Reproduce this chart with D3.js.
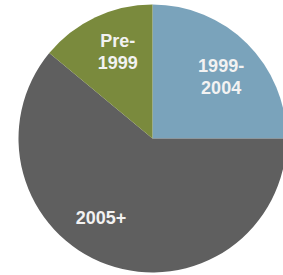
<!DOCTYPE html>
<html><head><meta charset="utf-8">
<script src="https://cdn.jsdelivr.net/npm/d3@7"></script>
<style>html,body{margin:0;padding:0;background:#fff;overflow:hidden}</style>
</head><body>
<svg id="chart" width="283" height="275"></svg>
<script>
const categories = ["1999-2004", "2005+", "Pre-1999"];
const values = [25, 61, 14];
const labelLines = [["1999-", "2004"], ["2005+"], ["Pre-", "1999"]];
const colors = ["#7aa3bb", "#5f5f5f", "#7a8a3d"];
const labelOffsets = [[5, 2], [-21, -6], [3.5, -6]];

const svg = d3.select("#chart");
const cx = 152.5, cy = 138.5, r = 134;
const g = svg.append("g").attr("transform", `translate(${cx},${cy})`);

const pie = d3.pie().sort(null).value(d => d);
const arcs = pie(values);
const arc = d3.arc().innerRadius(0).outerRadius(r);
const labelArc = d3.arc().innerRadius(90).outerRadius(90);

g.selectAll("path").data(arcs).enter().append("path")
  .attr("d", arc)
  .attr("fill", (d, i) => colors[i]);

const lh = 22;
arcs.forEach((d, i) => {
  const c = labelArc.centroid(d);
  const x = c[0] + labelOffsets[i][0];
  const y = c[1] + labelOffsets[i][1];
  const lines = labelLines[i];
  const t = g.append("text")
    .attr("text-anchor", "middle")
    .attr("font-family", "Liberation Sans, Arial, sans-serif")
    .attr("font-weight", "bold")
    .attr("font-size", 18)
    .attr("fill", "#f2f2f2");
  lines.forEach((ln, j) => {
    t.append("tspan")
      .attr("x", x)
      .attr("y", y - (lines.length - 1) * lh / 2 + 6.5 + j * lh)
      .text(ln);
  });
});
</script>
</body></html>
